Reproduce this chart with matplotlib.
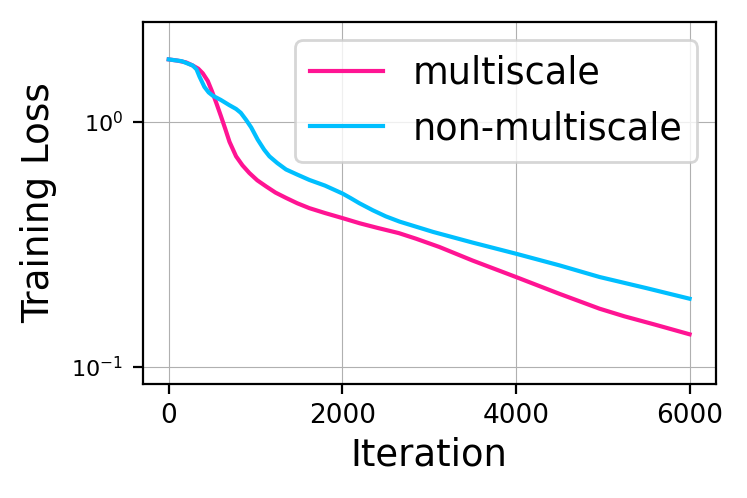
import numpy as np
import matplotlib
matplotlib.use("Agg")
import matplotlib.pyplot as plt

# values (log-scale loss)
iter_multi = [0, 100, 200, 276, 340, 392, 450, 500, 550, 600, 650, 700, 776,
              850, 929, 1020, 1121, 1230, 1351, 1480, 1620, 1800, 2004, 2200, 2400,
              2650, 2848, 3117, 3500, 4000, 4500, 4963, 5250, 5600, 6000]
loss_multi = [1.80, 1.78, 1.75, 1.70, 1.65, 1.58, 1.47, 1.33, 1.19, 1.06, 0.94, 0.83,
              0.724, 0.665, 0.619, 0.578, 0.546, 0.515, 0.49, 0.466, 0.445,
              0.425, 0.405, 0.386, 0.37, 0.352, 0.334, 0.309, 0.272, 0.233, 0.199,
              0.173, 0.161, 0.149, 0.136]

iter_non = [0, 150, 276, 320, 355, 411, 460, 507, 600, 700, 776, 830, 891, 950, 1025,
            1100, 1160, 1250, 1351, 1480, 1620, 1800, 2004, 2100, 2196, 2352, 2500,
            2660, 3044, 3500, 4000, 4500, 4963, 5500, 6000]
loss_non = [1.80, 1.77, 1.70, 1.64, 1.53, 1.39, 1.32, 1.28, 1.23, 1.17, 1.13, 1.09,
            1.02, 0.95, 0.847, 0.77, 0.724, 0.68, 0.64, 0.61, 0.58, 0.55, 0.51, 0.488,
            0.466, 0.436, 0.412, 0.392, 0.356, 0.322, 0.29, 0.26, 0.233, 0.21, 0.19]

fig, ax = plt.subplots(figsize=(3.735, 2.49), dpi=200)
fig.subplots_adjust(left=0.191, right=0.958, top=0.956, bottom=0.229)

ax.plot(iter_multi, loss_multi, color='deeppink', lw=1.5, label='multiscale')
ax.plot(iter_non, loss_non, color='deepskyblue', lw=1.5, label='non-multiscale')

ax.set_yscale('log')
ax.set_ylim(0.0853, 2.56)
ax.set_xlim(-300, 6300)
ax.set_xticks([0, 2000, 4000, 6000])
ax.yaxis.set_minor_locator(matplotlib.ticker.NullLocator())
ax.grid(True, color='#b0b0b0', lw=0.4)
ax.tick_params(axis='x', labelsize=9.5)
ax.tick_params(axis='y', labelsize=8)

ax.set_xlabel('Iteration', fontsize=13.3, labelpad=2.5)
ax.set_ylabel('Training Loss', fontsize=13.4, labelpad=5)
ax.legend(loc='upper right', fontsize=13.2)

fig.savefig('out.png', dpi=200)
